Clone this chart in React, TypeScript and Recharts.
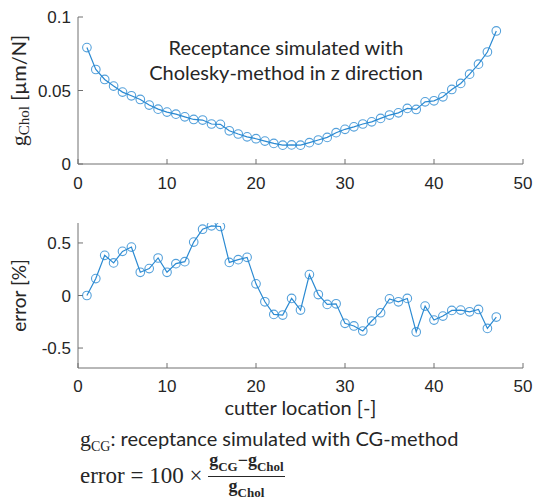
import React from 'react';
import { LineChart, Line, XAxis, YAxis, Label } from 'recharts';

// cutter locations 1..47
const cutterLocation = [
  1, 2, 3, 4, 5, 6, 7, 8, 9, 10, 11, 12, 13, 14, 15, 16, 17, 18, 19, 20, 21, 22, 23, 24,
  25, 26, 27, 28, 29, 30, 31, 32, 33, 34, 35, 36, 37, 38, 39, 40, 41, 42, 43, 44, 45, 46, 47,
];

// receptance, Cholesky [um/N]
const gChol = [
  0.0792, 0.0643, 0.0575, 0.053, 0.0489, 0.0464, 0.0439, 0.0401, 0.0373, 0.0353, 0.0339, 0.0321,
  0.0303, 0.0299, 0.0272, 0.027, 0.0226, 0.0204, 0.0185, 0.0172, 0.0156, 0.014, 0.0128, 0.013,
  0.0128, 0.0145, 0.0163, 0.0181, 0.0213, 0.0236, 0.0253, 0.0272, 0.0287, 0.031, 0.0333, 0.0348,
  0.0378, 0.0371, 0.0423, 0.043, 0.0457, 0.0507, 0.0548, 0.0611, 0.0679, 0.0762, 0.0905,
];

// relative error CG vs Cholesky [%]
const errorPct = [
  0.0, 0.161, 0.382, 0.31, 0.42, 0.461, 0.221, 0.256, 0.357, 0.221, 0.303, 0.322, 0.508, 0.631,
  0.663, 0.657, 0.315, 0.341, 0.363, 0.111, -0.06, -0.18, -0.186, -0.028, -0.139, 0.199, 0.009,
  -0.085, -0.079, -0.265, -0.29, -0.338, -0.243, -0.164, -0.032, -0.06, -0.028, -0.347, -0.101,
  -0.234, -0.196, -0.142, -0.139, -0.155, -0.133, -0.313, -0.205,
];

const xTicks = [0, 10, 20, 30, 40, 50];
const gTicks = [0, 0.05, 0.1];
const errorTicks = [-0.5, 0, 0.5];

const rows = cutterLocation.map((x, i) => ({ x, g: gChol[i], err: errorPct[i] }));

const BLUE = '#2b8ad2';
const BOX = '#707070';
const INK = '#262626';
const SANS = 'Lato, "Open Sans", sans-serif';
const SERIF = '"Liberation Serif", "DejaVu Serif", serif';
const tickFont = { fontFamily: '"Liberation Sans", Arial, sans-serif', fontSize: 17, fill: INK };

const dotStyle = { r: 4.3, fill: 'none', stroke: BLUE, strokeWidth: 1.1, strokeOpacity: 0.8 };

const GLabel = (props: any) => {
  const vb = props.viewBox || {};
  const cx = (vb.x || 0) + 21;
  const cy = (vb.y || 0) + (vb.height || 0) / 2;
  return (
    <text x={cx} y={cy} transform={`rotate(-90, ${cx}, ${cy})`} textAnchor="middle" dominantBaseline="middle" fill={INK} fontSize={20}>
      <tspan fontFamily={SERIF} fontSize={22}>g</tspan>
      <tspan fontFamily={SERIF} fontSize={15} dy={5}>Chol</tspan>
      <tspan fontFamily={SANS} dy={-5}> [µm/N]</tspan>
    </text>
  );
};

const ErrLabel = (props: any) => {
  const vb = props.viewBox || {};
  const cx = (vb.x || 0) + 21;
  const cy = (vb.y || 0) + (vb.height || 0) / 2;
  return (
    <text x={cx} y={cy} transform={`rotate(-90, ${cx}, ${cy})`} textAnchor="middle" dominantBaseline="middle" fill={INK} fontSize={19} fontFamily={SANS}>
      error [%]
    </text>
  );
};

const CutterLabel = (props: any) => {
  const vb = props.viewBox || {};
  const cx = (vb.x || 0) + (vb.width || 0) / 2;
  const cy = (vb.y || 0) + 42;
  return (
    <text x={cx} y={cy} textAnchor="middle" dominantBaseline="middle" fill={INK} fontSize={20} fontFamily={SANS}>
      cutter location [-]
    </text>
  );
};

// matlab style box with inward ticks on all four sides
const boxAxes = (domainX: number[], domainY: number[], ticksY: number[]) => [
  <XAxis key="xt" xAxisId="top" orientation="top" type="number" domain={domainX} ticks={xTicks} height={0}
    tick={false} tickSize={-5} axisLine={{ stroke: BOX }} tickLine={{ stroke: BOX }} allowDataOverflow />,
  <YAxis key="yr" yAxisId="right" orientation="right" type="number" domain={domainY} ticks={ticksY} width={0}
    tick={false} tickSize={-5} axisLine={{ stroke: BOX }} tickLine={{ stroke: BOX }} allowDataOverflow />,
];

export default function App() {
  return (
    <div style={{ position: 'absolute', left: 0, top: 0, width: 537, height: 501, background: '#fff' }}>
      <div style={{ position: 'absolute', left: 0, top: 0 }}>
        <LineChart width={537} height={200} data={rows} margin={{ top: 17, right: 14, bottom: 0, left: 0 }}>
          <XAxis dataKey="x" type="number" domain={[0, 50]} ticks={xTicks} height={36} tickSize={-5} tickMargin={18}
            tick={tickFont} axisLine={{ stroke: BOX }} tickLine={{ stroke: BOX }} allowDataOverflow />
          <YAxis type="number" domain={[0, 0.1]} ticks={gTicks} width={78} tickSize={-5} tickMargin={12}
            tick={tickFont} axisLine={{ stroke: BOX }} tickLine={{ stroke: BOX }} allowDataOverflow>
            <Label content={<GLabel />} />
          </YAxis>
          {boxAxes([0, 50], [0, 0.1], gTicks)}
          <Line type="linear" dataKey="g" stroke={BLUE} strokeWidth={1.2} dot={dotStyle} isAnimationActive={false} />
        </LineChart>
      </div>
      <div style={{ position: 'absolute', left: 136, top: 35, width: 300, textAlign: 'center', fontFamily: SANS, fontSize: 20, lineHeight: '25px', color: INK }}>
        Receptance simulated with<br />Cholesky-method in z direction
      </div>
      <div style={{ position: 'absolute', left: 0, top: 206 }}>
        <LineChart width={537} height={220} data={rows} margin={{ top: 17, right: 14, bottom: 0, left: 0 }}>
          <XAxis dataKey="x" type="number" domain={[0, 50]} ticks={xTicks} height={58} tickSize={-5} tickMargin={17}
            tick={tickFont} axisLine={{ stroke: BOX }} tickLine={{ stroke: BOX }} allowDataOverflow>
            <Label content={<CutterLabel />} />
          </XAxis>
          <YAxis type="number" domain={[-0.69, 0.69]} ticks={errorTicks} width={78} tickSize={-5} tickMargin={12}
            tick={tickFont} axisLine={{ stroke: BOX }} tickLine={{ stroke: BOX }} allowDataOverflow>
            <Label content={<ErrLabel />} />
          </YAxis>
          {boxAxes([0, 50], [-0.69, 0.69], errorTicks)}
          <Line type="linear" dataKey="err" stroke={BLUE} strokeWidth={1.2} dot={dotStyle} isAnimationActive={false} />
        </LineChart>
      </div>
      <div style={{ position: 'absolute', left: 80, top: 426, fontSize: 20, color: INK, whiteSpace: 'nowrap' }}>
        <span style={{ fontFamily: SERIF, fontSize: 22 }}>g</span>
        <sub style={{ fontFamily: SERIF, fontSize: 14 }}>CG</sub>
        <span style={{ fontFamily: SANS }}>: receptance simulated with CG-method</span>
      </div>
      <div style={{ position: 'absolute', left: 80, top: 451, display: 'flex', alignItems: 'center', fontFamily: SERIF, color: INK, whiteSpace: 'nowrap' }}>
        <span style={{ fontSize: 23 }}>error = 100 ×&nbsp;</span>
        <span style={{ display: 'inline-flex', flexDirection: 'column', alignItems: 'center', fontSize: 18, lineHeight: '19px', fontWeight: 'bold' }}>
          <span style={{ borderBottom: `1px solid ${INK}`, padding: '0 1px' }}>
            g<sub style={{ fontSize: 13 }}>CG</sub>−g<sub style={{ fontSize: 13 }}>Chol</sub>
          </span>
          <span>g<sub style={{ fontSize: 13 }}>Chol</sub></span>
        </span>
      </div>
    </div>
  );
}
